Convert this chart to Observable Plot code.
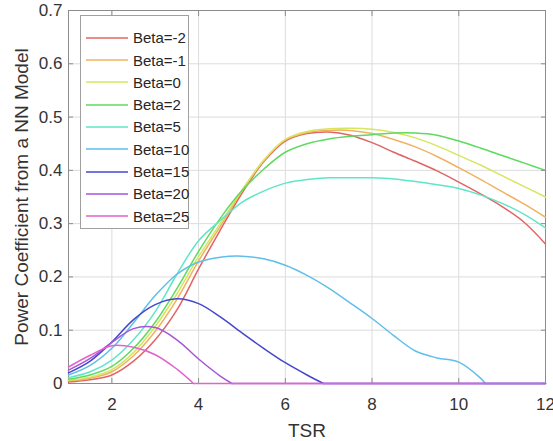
<!DOCTYPE html>
<html><head><meta charset="utf-8">
<script src="https://cdn.jsdelivr.net/npm/d3@7"></script>
<script src="https://cdn.jsdelivr.net/npm/@observablehq/plot@0.6"></script>
<style>
body{margin:0;background:#fff;}
#wrap{position:relative;width:553px;height:441px;font-family:"Liberation Sans",Arial,sans-serif;}
#legend{position:absolute;left:80px;top:15px;width:107px;height:212px;border:1px solid #a0a0a0;background:#fff;}
.row{position:absolute;left:0;height:20px;display:flex;align-items:center;}
.row svg{display:block;margin-left:5px;margin-right:5px;}
.lab{font-size:15px;color:#262626;white-space:nowrap;}
</style></head><body><div id="wrap"></div>
<script>
// ---- data ----
const tsr = [1,1.5,2,2.5,3,3.5,4,4.5,5,5.5,6,6.5,7,7.5,8,8.5,9,9.5,10,10.5,11,11.5,12];
const xTicks = [2,4,6,8,10,12];
const yTicks = [0,0.1,0.2,0.3,0.4,0.5,0.6,0.7];
const betaLabels = ["Beta=-2","Beta=-1","Beta=0","Beta=2","Beta=5","Beta=10","Beta=15","Beta=20","Beta=25"];
const seriesColors = ["#e06464","#f0b262","#d6e65e","#5fda5f","#5fe6c6","#5fbfe8","#4646cf","#a656d8","#e462cc"];
// power coefficient per beta, sampled on tsr grid (curves that drop to zero stop early)
const cpBetaM2 = [0.003,0.007,0.016,0.042,0.082,0.138,0.215,0.288,0.357,0.416,0.455,0.469,0.472,0.466,0.452,0.434,0.417,0.399,0.378,0.356,0.332,0.303,0.262];
const cpBetaM1 = [0.005,0.010,0.022,0.052,0.098,0.158,0.230,0.295,0.361,0.418,0.457,0.471,0.475,0.475,0.469,0.458,0.444,0.426,0.405,0.383,0.360,0.337,0.312];
const cpBeta0  = [0.006,0.012,0.026,0.058,0.107,0.168,0.238,0.300,0.363,0.419,0.458,0.473,0.478,0.479,0.477,0.471,0.461,0.446,0.428,0.410,0.390,0.370,0.350];
const cpBeta2  = [0.008,0.016,0.032,0.066,0.115,0.178,0.248,0.310,0.362,0.402,0.434,0.450,0.459,0.464,0.467,0.470,0.470,0.466,0.455,0.442,0.428,0.414,0.400];
const cpBeta5  = [0.011,0.022,0.044,0.082,0.135,0.205,0.268,0.306,0.340,0.361,0.376,0.383,0.386,0.386,0.386,0.384,0.379,0.373,0.366,0.354,0.338,0.318,0.292];
const cpBeta10 = [0.016,0.034,0.066,0.114,0.165,0.205,0.228,0.237,0.239,0.234,0.222,0.203,0.179,0.151,0.122,0.090,0.061,0.048,0.040,0.010];
const cpBeta15 = [0.020,0.042,0.078,0.120,0.148,0.159,0.150,0.125,0.095,0.066,0.039,0.016];
const cpBeta20 = [0.025,0.047,0.077,0.103,0.105,0.082,0.046,0.014];
const cpBeta25 = [0.031,0.053,0.071,0.068,0.054,0.027,0.010];
const cpBeta25Tsr = [1,1.5,2,2.5,3,3.5,3.75];
const cpSeries = [cpBetaM2,cpBetaM1,cpBeta0,cpBeta2,cpBeta5,cpBeta10,cpBeta15,cpBeta20,cpBeta25];
// TSR where the curve reaches zero (null: stays positive)
const zeroAt = [null,null,null,null,null,10.61,6.88,4.77,3.88];
const yLabel = "Power Coefficient from a NN Model";
const xLabel = "TSR";

// ---- build ----
const lastTsr = tsr[tsr.length-1];
const marks = [
  Plot.gridX(xTicks, {stroke:"#dcdcdc", strokeOpacity:1}),
  Plot.gridY(yTicks, {stroke:"#dcdcdc", strokeOpacity:1}),
  Plot.frame({stroke:"#8c8c8c"})
];
cpSeries.forEach((vals, i) => {
  const xs = i === 8 ? cpBeta25Tsr : tsr;
  const pts = vals.map((v, j) => ({x: xs[j], y: v}));
  if (zeroAt[i] != null) pts.push({x: zeroAt[i], y: 0});
  marks.push(Plot.line(pts, {x:"x", y:"y", stroke: seriesColors[i], strokeWidth:1.5, curve:"catmull-rom"}));
  if (zeroAt[i] != null) {
    marks.push(Plot.line([{x: zeroAt[i], y: 0}, {x: lastTsr, y: 0}], {x:"x", y:"y", stroke: seriesColors[i], strokeWidth:1.5}));
  }
});
const fmt = d3.format("~g");
marks.push(
  Plot.axisX(xTicks, {anchor:"bottom", tickSize:-5, tickPadding:19, tickFormat: fmt, label:null, fontSize:17, stroke:"#8c8c8c", fill:"#333"}),
  Plot.axisX(xTicks, {anchor:"top", tickSize:-5, tickFormat: () => "", label:null, stroke:"#8c8c8c"}),
  Plot.axisY(yTicks, {anchor:"left", tickSize:-5, tickPadding:11, tickFormat: fmt, label:null, fontSize:17, stroke:"#8c8c8c", fill:"#333"}),
  Plot.axisY(yTicks, {anchor:"right", tickSize:-5, tickFormat: () => "", label:null, stroke:"#8c8c8c"}),
  Plot.text([xLabel], {frameAnchor:"bottom", dy:47, fontSize:19, fill:"#333", textAnchor:"middle", lineAnchor:"middle"}),
  Plot.text([yLabel], {frameAnchor:"left", rotate:-90, dx:-47, fontSize:19, fill:"#333", textAnchor:"middle", lineAnchor:"middle"})
);

const chart = Plot.plot({
  width:553, height:441,
  marginLeft:68, marginRight:8, marginTop:10, marginBottom:58,
  x:{domain:[1,12]},
  y:{domain:[0,0.7]},
  style:{fontFamily:"Liberation Sans, Arial, sans-serif", background:"#fff", color:"#333"},
  marks
});
const wrap = document.getElementById("wrap");
wrap.appendChild(chart);

// legend overlay
const leg = document.createElement("div");
leg.id = "legend";
const svgNS = "http://www.w3.org/2000/svg";
betaLabels.forEach((lab, i) => {
  const row = document.createElement("div");
  row.className = "row";
  row.style.top = (11.7 + i*22.3) + "px";
  const sw = document.createElementNS(svgNS, "svg");
  sw.setAttribute("width", "42"); sw.setAttribute("height", "4");
  const ln = document.createElementNS(svgNS, "line");
  ln.setAttribute("x1", "0"); ln.setAttribute("x2", "42");
  ln.setAttribute("y1", "2"); ln.setAttribute("y2", "2");
  ln.setAttribute("stroke", seriesColors[i]); ln.setAttribute("stroke-width", "1.5");
  sw.appendChild(ln);
  const t = document.createElement("span");
  t.className = "lab";
  t.textContent = lab;
  row.appendChild(sw); row.appendChild(t);
  leg.appendChild(row);
});
wrap.appendChild(leg);
</script>
</body></html>
